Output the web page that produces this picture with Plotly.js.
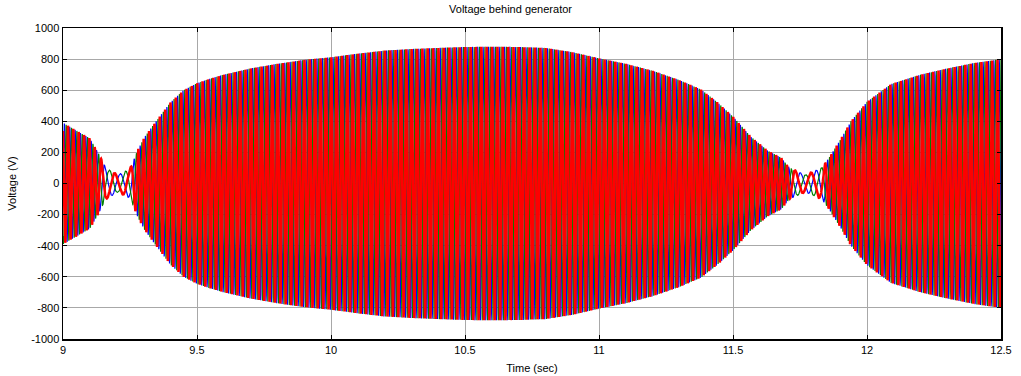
<!DOCTYPE html>
<html>
<head>
<meta charset="utf-8">
<script src="https://cdn.plot.ly/plotly-3.0.1.min.js"></script>
<style>html,body{margin:0;padding:0;background:#fff}#chart{width:1021px;height:376px}</style>
</head>
<body>
<div id="chart"></div>
<script>
// Envelope (peak amplitude, V)
const envTime = [9.00, 9.05, 9.10, 9.13, 9.16, 9.205, 9.25, 9.28, 9.305, 9.343, 9.40, 9.45, 9.50, 9.55, 9.60, 9.70, 9.80, 9.90, 10.00, 10.10, 10.20, 10.30, 10.40, 10.50, 10.60, 10.70, 10.80, 10.90, 11.00, 11.10, 11.20, 11.30, 11.38, 11.44, 11.50, 11.567, 11.63, 11.68, 11.71, 11.77, 11.83, 11.86, 11.90, 11.94, 12.00, 12.09, 12.20, 12.30, 12.40, 12.50];
const envVolt = [390, 340, 290, 200, 100, 55, 95, 220, 300, 390, 520, 600, 645, 675, 700, 740, 770, 795, 812, 835, 855, 865, 872, 878, 880, 878, 872, 845, 805, 770, 725, 665, 605, 525, 430, 300, 210, 165, 100, 55, 100, 170, 280, 400, 525, 640, 700, 740, 775, 800];
// Apparent oscillation frequency (Hz) (slows near the nulls)
const freqTime = [9.00, 9.12, 9.16, 9.25, 9.28, 11.70, 11.73, 11.83, 11.86, 12.50];
const freqHz   = [50, 50, 17, 17, 50, 50, 17, 17, 50, 50];
// Phases (drawn blue, green, then red on top)
const phaseNames = ['Phase A', 'Phase B', 'Phase C'];
const phaseShiftDeg = [0, -120, 120];
const phaseColors = ['#0000ff', '#008000', '#ff0000'];
const phaseWidths = [1.2, 1.2, 2.5];
// Axis ticks
const xTicks = [9, 9.5, 10, 10.5, 11, 11.5, 12, 12.5];
const xTickText = ['9', '9.5', '10', '10.5', '11', '11.5', '12', '12.5'];
const yTicks = [-1000, -800, -600, -400, -200, 0, 200, 400, 600, 800, 1000];
const yTickText = ['-1000', '-800', '-600', '-400', '-200', '0', '200', '400', '600', '800', '1000'];

function lookup(ts, vs, t) {
  if (t <= ts[0]) return vs[0];
  for (let i = 1; i < ts.length; i++) {
    if (t <= ts[i]) {
      const f = (t - ts[i-1]) / (ts[i] - ts[i-1]);
      return vs[i-1] + f * (vs[i] - vs[i-1]);
    }
  }
  return vs[vs.length - 1];
}

const fs = 4000;
const t0 = 9, t1 = 12.5;
const n = Math.round((t1 - t0) * fs) + 1;
const time = new Array(n);
const phase = new Array(n);
const env = new Array(n);
let ph = 0;
for (let i = 0; i < n; i++) {
  const t = t0 + i / fs;
  time[i] = t;
  env[i] = lookup(envTime, envVolt, t);
  phase[i] = ph;
  ph += 2 * Math.PI * lookup(freqTime, freqHz, t) / fs;
}

const traces = phaseNames.map((name, k) => {
  const off = phaseShiftDeg[k] * Math.PI / 180;
  const y = new Array(n);
  for (let i = 0; i < n; i++) y[i] = env[i] * Math.sin(phase[i] + off);
  return {
    type: 'scatter', mode: 'lines', name: name, x: time, y: y,
    line: {color: phaseColors[k], width: phaseWidths[k]},
    hoverinfo: 'skip'
  };
});

const font = {family: 'Liberation Sans, Arial, sans-serif', size: 11, color: '#000'};
const layout = {
  width: 1021, height: 376,
  margin: {l: 63, r: 20, t: 28, b: 37},
  paper_bgcolor: '#fff', plot_bgcolor: '#fff',
  showlegend: false,
  font: font,
  title: {text: 'Voltage behind generator', font: {family: font.family, size: 11, color: '#000'}, x: 0.5, xanchor: 'center', y: 0.985, yanchor: 'top'},
  xaxis: {
    range: [t0, t1], tickvals: xTicks, ticktext: xTickText,
    ticks: 'inside', ticklen: 4, tickcolor: '#000',
    showline: true, linecolor: '#000', linewidth: 1.5, mirror: 'ticks',
    showgrid: true, gridcolor: '#a8a8a8', gridwidth: 1,
    zeroline: false, tickfont: font,
    title: {text: 'Time (sec)', font: font, standoff: 9}
  },
  yaxis: {
    range: [-1000, 1000], tickvals: yTicks, ticktext: yTickText,
    ticks: 'inside', ticklen: 4, tickcolor: '#000',
    showline: true, linecolor: '#000', linewidth: 1.5, mirror: 'ticks',
    showgrid: true, gridcolor: '#a8a8a8', gridwidth: 1,
    zeroline: false, tickfont: font,
    title: {text: 'Voltage (V)', font: font, standoff: 12}
  }
};

Plotly.newPlot('chart', traces, layout, {staticPlot: true, displayModeBar: false});
</script>
</body>
</html>
